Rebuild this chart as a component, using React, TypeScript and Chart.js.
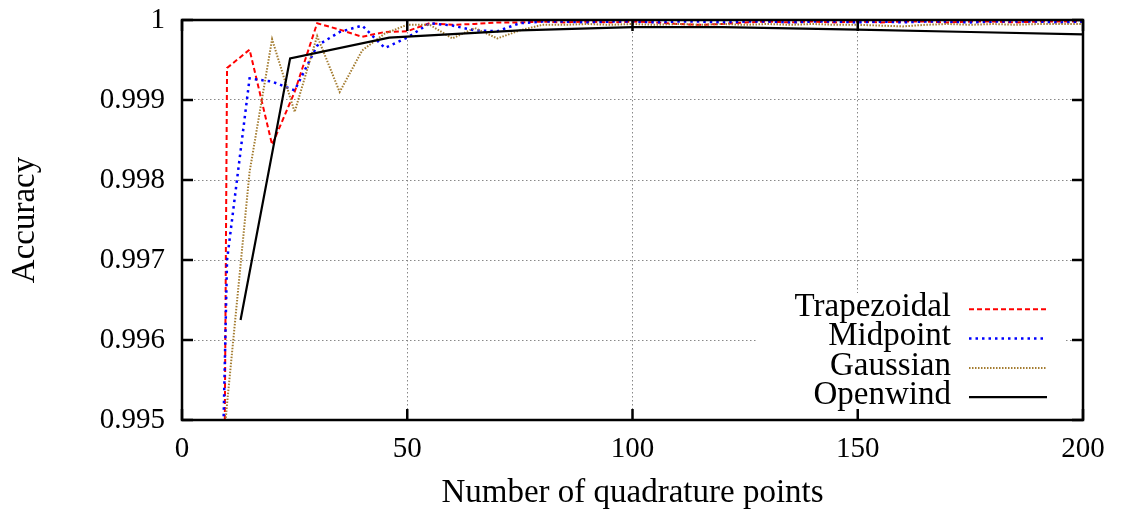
import React, { useEffect, useRef } from 'react';
import { Chart, registerables } from 'chart.js';

Chart.register(...registerables);

// ---- data ----
const xValues = [5, 10, 15, 20, 25, 30, 35, 40, 45, 50, 55, 60, 65, 70, 75, 80, 85, 90, 95, 100,
  105, 110, 115, 120, 125, 130, 135, 140, 145, 150, 155, 160, 165, 170, 175, 180, 185, 190, 195, 200];

const trapezoidal = [0.955, 0.9994, 0.99963, 0.99844, 0.9991, 0.99996, 0.99988, 0.99979, 0.99985, 0.99986,
  0.99996, 0.99994, 0.99995, 0.99997, 0.99997, 0.99998, 0.99997, 0.99998, 0.99997, 0.99998,
  0.99997, 0.99995, 0.99994, 0.99995, 0.99997, 0.99998, 0.99997, 0.99998, 0.99997, 0.99998,
  0.99997, 0.99998, 0.99998, 0.99997, 0.99998, 0.99998, 0.99997, 0.99998, 0.99998, 0.99998];

const midpoint = [0.984, 0.997, 0.99927, 0.99923, 0.99912, 0.99968, 0.99985, 0.99993, 0.99965, 0.99978,
  0.99996, 0.99993, 0.99987, 0.99986, 0.99996, 0.99998, 0.99998, 0.99997, 0.99998, 0.99998,
  0.99997, 0.99998, 0.99998, 0.99997, 0.99998, 0.99998, 0.99997, 0.99998, 0.99998, 0.99997,
  0.99998, 0.99997, 0.99998, 0.99998, 0.99997, 0.99998, 0.99998, 0.99998, 0.99997, 0.99998];

const gaussian = [0.992, 0.9952, 0.9981, 0.99976, 0.99885, 0.9998, 0.9991, 0.99962, 0.99983, 0.99994,
  0.99994, 0.99977, 0.9999, 0.99977, 0.99987, 0.99994, 0.99994, 0.99995, 0.99994, 0.99995,
  0.99994, 0.99995, 0.99994, 0.99995, 0.99994, 0.99995, 0.99994, 0.99995, 0.99994, 0.99994,
  0.99993, 0.99992, 0.99994, 0.99995, 0.99994, 0.99995, 0.99994, 0.99995, 0.99995, 0.99995];

const openwindX = [13, 24, 46, 75, 100, 120, 150, 175, 200];
const openwind = [0.99625, 0.99952, 0.99978, 0.99987, 0.99991, 0.99991, 0.99988, 0.99985, 0.99982];

const xTicks = [0, 50, 100, 150, 200];
const yTicks = [0.995, 0.996, 0.997, 0.998, 0.999, 1];
const yTickLabels = ['0.995', '0.996', '0.997', '0.998', '0.999', '1'];
const seriesLabels = ['Trapezoidal', 'Midpoint', 'Gaussian', 'Openwind'];

const FONT = '"Liberation Serif", "Times New Roman", serif';

const gnuplotDecor = {
  id: 'gnuplotDecor',
  beforeDatasetsDraw(chart: any) {
    const { ctx, chartArea: a } = chart;
    ctx.save();
    ctx.fillStyle = '#ffffff';
    ctx.fillRect(a.right - 326, a.bottom - 127, 308, 127);
    ctx.font = `33px ${FONT}`;
    ctx.textAlign = 'right';
    ctx.textBaseline = 'middle';
    chart.data.datasets.forEach((ds: any, i: number) => {
      const y = a.bottom - 110.7 + i * 29.3;
      ctx.fillStyle = '#000';
      ctx.fillText(ds.label, a.right - 132, y - 2);
      ctx.beginPath();
      ctx.setLineDash(ds.borderDash || []);
      ctx.lineWidth = ds.borderWidth;
      ctx.strokeStyle = ds.borderColor;
      ctx.moveTo(a.right - 114, y);
      ctx.lineTo(a.right - 36, y);
      ctx.stroke();
    });
    ctx.restore();
  },
  afterDatasetsDraw(chart: any) {
    const { ctx, chartArea: a, scales } = chart;
    ctx.save();
    ctx.setLineDash([]);
    ctx.strokeStyle = '#000';
    ctx.lineWidth = 2.5;
    ctx.strokeRect(a.left, a.top, a.right - a.left, a.bottom - a.top);
    const len = 11;
    ctx.beginPath();
    yTicks.forEach((v) => {
      const y = scales.y.getPixelForValue(v);
      ctx.moveTo(a.left, y); ctx.lineTo(a.left + len, y);
      ctx.moveTo(a.right, y); ctx.lineTo(a.right - len, y);
    });
    xTicks.forEach((v) => {
      const x = scales.x.getPixelForValue(v);
      ctx.moveTo(x, a.bottom); ctx.lineTo(x, a.bottom - len);
      ctx.moveTo(x, a.top); ctx.lineTo(x, a.top + len);
    });
    ctx.stroke();
    ctx.restore();
  },
};

export default function App() {
  const canvasRef = useRef<HTMLCanvasElement | null>(null);

  useEffect(() => {
    if (!canvasRef.current) return;
    const mk = (xs: number[], ys: number[]) => xs.map((x, i) => ({ x, y: ys[i] }));
    const chart = new Chart(canvasRef.current, {
      type: 'line',
      data: {
        datasets: [
          { label: seriesLabels[0], data: mk(xValues, trapezoidal), borderColor: '#ff0000', borderWidth: 2, borderDash: [5, 3], pointRadius: 0, fill: false, tension: 0, order: 3 },
          { label: seriesLabels[1], data: mk(xValues, midpoint), borderColor: '#0000ff', borderWidth: 2.5, borderDash: [2.5, 4], pointRadius: 0, fill: false, tension: 0, order: 2 },
          { label: seriesLabels[2], data: mk(xValues, gaussian), borderColor: '#a47c30', borderWidth: 2, borderDash: [1.5, 1.5], pointRadius: 0, fill: false, tension: 0, order: 1 },
          { label: seriesLabels[3], data: mk(openwindX, openwind), borderColor: '#000000', borderWidth: 2.2, pointRadius: 0, fill: false, tension: 0, order: 0 },
        ] as any,
      },
      options: {
        responsive: false,
        animation: false,
        devicePixelRatio: 1,
        layout: { padding: { left: 0, right: 38, top: 20, bottom: 0 } },
        plugins: { legend: { display: false }, tooltip: { enabled: false } },
        scales: {
          x: {
            type: 'linear',
            min: 0,
            max: 200,
            afterBuildTicks: (s: any) => { s.ticks = xTicks.map((v) => ({ value: v })); },
            afterFit: (s: any) => { s.height = 96; s.paddingLeft = 0; s.paddingRight = 0; },
            ticks: { color: '#000', font: { family: FONT, size: 29 }, padding: 12, maxRotation: 0, callback: (v: any) => String(v) },
            grid: { color: '#888', lineWidth: 1, drawTicks: false },
            border: { display: false, dash: [1.5, 2.5] },
            title: { display: true, text: 'Number of quadrature points', color: '#000', font: { family: FONT, size: 33 }, padding: { top: 0, bottom: 3 } },
          },
          y: {
            type: 'linear',
            min: 0.995,
            max: 1,
            afterBuildTicks: (s: any) => { s.ticks = yTicks.map((v) => ({ value: v })); },
            afterFit: (s: any) => { s.width = 182; s.paddingTop = 0; s.paddingBottom = 0; },
            ticks: {
              color: '#000', font: { family: FONT, size: 29 }, padding: 17,
              callback: (v: any) => { const i = yTicks.findIndex((t) => Math.abs(t - v) < 1e-9); return i >= 0 ? yTickLabels[i] : ''; },
            },
            grid: { color: '#888', lineWidth: 1, drawTicks: false },
            border: { display: false, dash: [1.5, 2.5] },
            title: { display: true, text: 'Accuracy', color: '#000', font: { family: FONT, size: 33 }, padding: { top: 6, bottom: 0 } },
          },
        },
      } as any,
      plugins: [gnuplotDecor],
    });
    return () => chart.destroy();
  }, []);

  return (
    <div style={{ position: 'absolute', left: 0, top: 0, width: 1121, height: 516, background: '#fff' }}>
      <canvas ref={canvasRef} width={1121} height={516} style={{ display: 'block' }} />
    </div>
  );
}
